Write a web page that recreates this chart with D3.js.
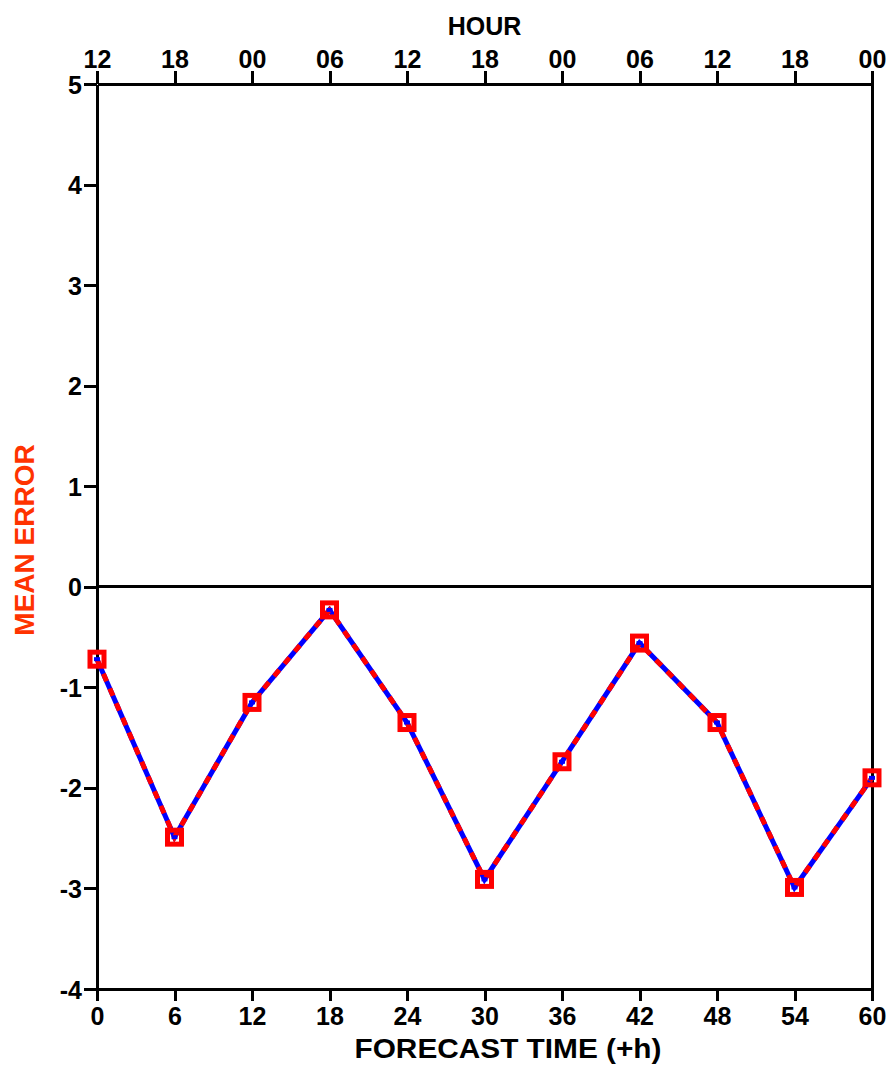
<!DOCTYPE html>
<html>
<head>
<meta charset="utf-8">
<script src="https://cdn.jsdelivr.net/npm/d3@7"></script>
<style>
  body { margin: 0; background: #fff; }
  svg text { font-family: "Liberation Sans", Arial, sans-serif; font-weight: bold; }
</style>
</head>
<body>
<svg id="chart"></svg>
<script>
// dados
let forecastHours = [0, 6, 12, 18, 24, 30, 36, 42, 48, 54, 60];
let hourLabels = ["12", "18", "00", "06", "12", "18", "00", "06", "12", "18", "00"];
let meanErrorRed = [-0.72, -2.49, -1.15, -0.23, -1.35, -2.91, -1.74, -0.56, -1.35, -2.99, -1.90];
let meanErrorBlue = [-0.72, -2.49, -1.15, -0.23, -1.35, -2.91, -1.74, -0.56, -1.35, -2.99, -1.90];
let yTicks = [5, 4, 3, 2, 1, 0, -1, -2, -3, -4];

let width = 890, height = 1065;
let margem = { esq: 97, dir: 872, topo: 84, base: 989 };

let svg = d3.select("#chart").attr("width", width).attr("height", height);

let x = d3.scaleLinear().domain([0, 60]).range([margem.esq, margem.dir]);
let y = d3.scaleLinear().domain([-4, 5]).range([margem.base, margem.topo]);

// eixos
function estilo(g) {
    g.selectAll("path, line").attr("stroke", "#000").attr("stroke-width", 3)
        .attr("shape-rendering", "crispEdges");
    g.selectAll("text").attr("fill", "#000").style("font-size", "25px");
}

svg.append("g")
    .attr("transform", "translate(0," + margem.base + ")")
    .call(d3.axisBottom(x).tickValues(forecastHours).tickSize(12).tickSizeOuter(0).tickPadding(6).tickFormat(d => String(d)))
    .call(estilo);

svg.append("g")
    .attr("transform", "translate(0," + margem.topo + ")")
    .call(d3.axisTop(x).tickValues(forecastHours).tickSize(13).tickSizeOuter(0).tickPadding(3)
        .tickFormat((d, i) => hourLabels[i]))
    .call(estilo);

svg.append("g")
    .attr("transform", "translate(" + margem.esq + ",0)")
    .call(d3.axisLeft(y).tickValues(yTicks).tickSize(13).tickSizeOuter(0).tickPadding(2).tickFormat(d => String(d)))
    .call(estilo)
    .selectAll("text").attr("dy", "0.36em");

svg.append("line")
    .attr("x1", margem.dir).attr("x2", margem.dir).attr("y1", margem.topo).attr("y2", margem.base)
    .attr("stroke", "#000").attr("stroke-width", 3).attr("shape-rendering", "crispEdges");

// linha do zero
svg.append("line")
    .attr("x1", margem.esq).attr("x2", margem.dir).attr("y1", y(0)).attr("y2", y(0))
    .attr("stroke", "#000").attr("stroke-width", 3).attr("shape-rendering", "crispEdges");

// títulos
svg.append("text").attr("x", (margem.esq + margem.dir) / 2).attr("y", 35)
    .attr("text-anchor", "middle").style("font-size", "25px").text("HOUR");

svg.append("text").attr("x", 508).attr("y", 1058)
    .attr("text-anchor", "middle").style("font-size", "27px")
    .attr("textLength", 307).attr("lengthAdjust", "spacingAndGlyphs")
    .text("FORECAST TIME (+h)");

svg.append("text").attr("transform", "translate(34,540) rotate(-90)")
    .attr("text-anchor", "middle").attr("fill", "#ff3300").style("font-size", "28px")
    .text("MEAN ERROR");

// séries
let linha = d3.line().x((d, i) => x(forecastHours[i])).y(d => y(d));

svg.append("path").datum(meanErrorBlue)
    .attr("d", linha).attr("fill", "none").attr("stroke", "#0000ff").attr("stroke-width", 5);

svg.append("path").datum(meanErrorRed)
    .attr("d", linha).attr("fill", "none").attr("stroke", "#ff0000").attr("stroke-width", 5)
    .attr("stroke-dasharray", "8,8");

svg.append("g").selectAll("rect").data(meanErrorRed).enter().append("rect")
    .attr("x", (d, i) => x(forecastHours[i]) - 7)
    .attr("y", d => y(d) - 7)
    .attr("width", 14).attr("height", 14)
    .attr("fill", "none").attr("stroke", "#ff0000").attr("stroke-width", 5);

svg.append("g").selectAll("rect").data(meanErrorBlue).enter().append("rect")
    .attr("x", (d, i) => x(forecastHours[i]) - 3)
    .attr("y", d => y(d) - 2)
    .attr("width", 6).attr("height", 4)
    .attr("fill", "#0000ff");
</script>
</body>
</html>
